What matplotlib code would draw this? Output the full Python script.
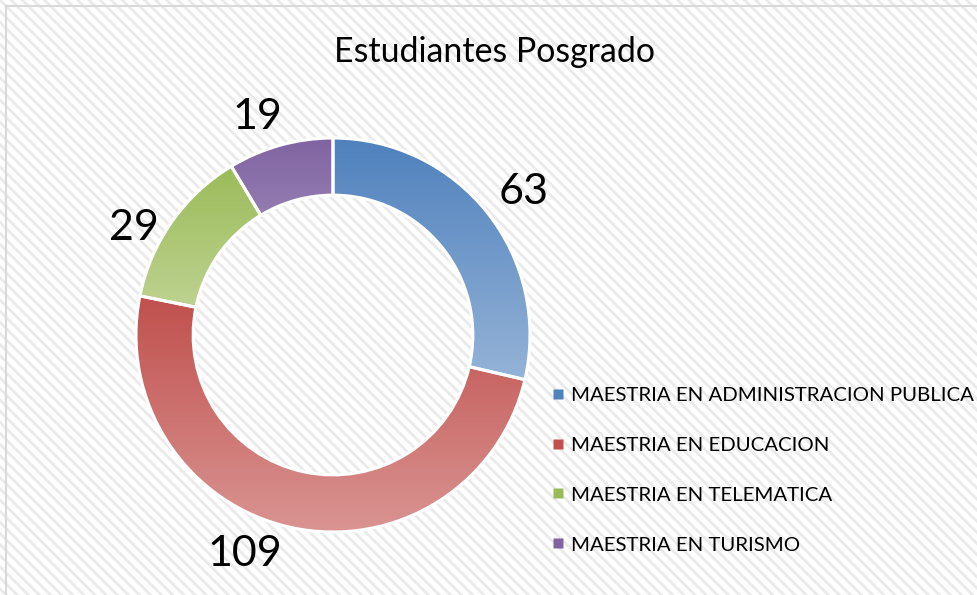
import numpy as np
import matplotlib.pyplot as plt
from matplotlib.patches import Rectangle
from matplotlib.lines import Line2D
from matplotlib.colors import LinearSegmentedColormap

plt.rcParams['font.family'] = ['Lato', 'DejaVu Sans']
plt.rcParams['hatch.linewidth'] = 2.0

title = 'Estudiantes Posgrado'
programs = ['MAESTRIA EN ADMINISTRACION PUBLICA', 'MAESTRIA EN EDUCACION',
            'MAESTRIA EN TELEMATICA', 'MAESTRIA EN TURISMO']
students = [63, 109, 29, 19]

# gradient colours (top, bottom) for each slice
top_colors = ['#4F81BD', '#C0504D', '#9BBB59', '#8064A2']
bottom_colors = ['#95B3D7', '#DA9694', '#C4D79B', '#B3A2C7']
legend_colors = ['#4F81BD', '#C0504D', '#9BBB59', '#8064A2']

# label angle nudges (deg) and radii, to mimic Excel's best-fit placement
label_nudge = [-1.5, -9.6, 6.9, 3.5]
label_r = [1.21, 1.20, 1.15, 1.17]

W, H = 977, 595
fig = plt.figure(figsize=(W / 100, H / 100), dpi=100)

# striped background + frame
bg = Rectangle((0, 0), 1, 1, transform=fig.transFigure, facecolor='white',
               edgecolor='#EAEAEA', hatch='\\\\\\', linewidth=0, zorder=-10)
fig.patches.append(bg)
frame = Rectangle((5.5 / W, -0.1), 2, 1 - 6.5 / H + 0.1, transform=fig.transFigure,
                  facecolor='none', edgecolor='#D9D9D9', linewidth=1.5, zorder=-9)
fig.patches.append(frame)

cx, cy, R = 333, 335, 197
lim = 1.3
size = 2 * lim * R
ax = fig.add_axes([(cx - size / 2) / W, (H - cy - size / 2) / H, size / W, size / H])
ax.set_aspect('equal')
ax.axis('off')
ax.patch.set_visible(False)

wedges, _ = ax.pie(students, startangle=90, counterclock=False, radius=1,
                   wedgeprops=dict(width=0.29, edgecolor='white', linewidth=2.2),
                   colors=top_colors)

grad = np.linspace(0, 1, 256).reshape(-1, 1)
for w, c0, c1 in zip(wedges, top_colors, bottom_colors):
    verts = w.get_path().vertices
    x0, x1 = verts[:, 0].min(), verts[:, 0].max()
    y0, y1 = verts[:, 1].min(), verts[:, 1].max()
    cmap = LinearSegmentedColormap.from_list('g', [c1, c0])
    im = ax.imshow(grad, cmap=cmap, extent=[x0, x1, y0, y1], origin='lower',
                   aspect='auto', zorder=w.get_zorder() - 0.5)
    im.set_clip_path(w)
    w.set_facecolor('none')
ax.set_xlim(-lim, lim)
ax.set_ylim(-lim, lim)

for w, val, nud, r in zip(wedges, students, label_nudge, label_r):
    ang = np.deg2rad((w.theta1 + w.theta2) / 2 + nud)
    ax.text(r * np.cos(ang), r * np.sin(ang), str(val),
            ha='center', va='center', fontsize=31, color='black')

fig.text(495 / W, 1 - 52 / H, title, ha='center', va='center', fontsize=24.4)

handles = [Line2D([], [], marker='s', linestyle='none', markersize=7,
                  markerfacecolor=c, markeredgecolor='none') for c in legend_colors]
fig.legend(handles, programs, loc='center left', bbox_to_anchor=(540 / W, 1 - 470 / H),
           frameon=False, fontsize=14.7, labelspacing=1.6, handletextpad=0.1,
           handlelength=1.0, borderaxespad=0)

fig.savefig('out.png', dpi=100)
